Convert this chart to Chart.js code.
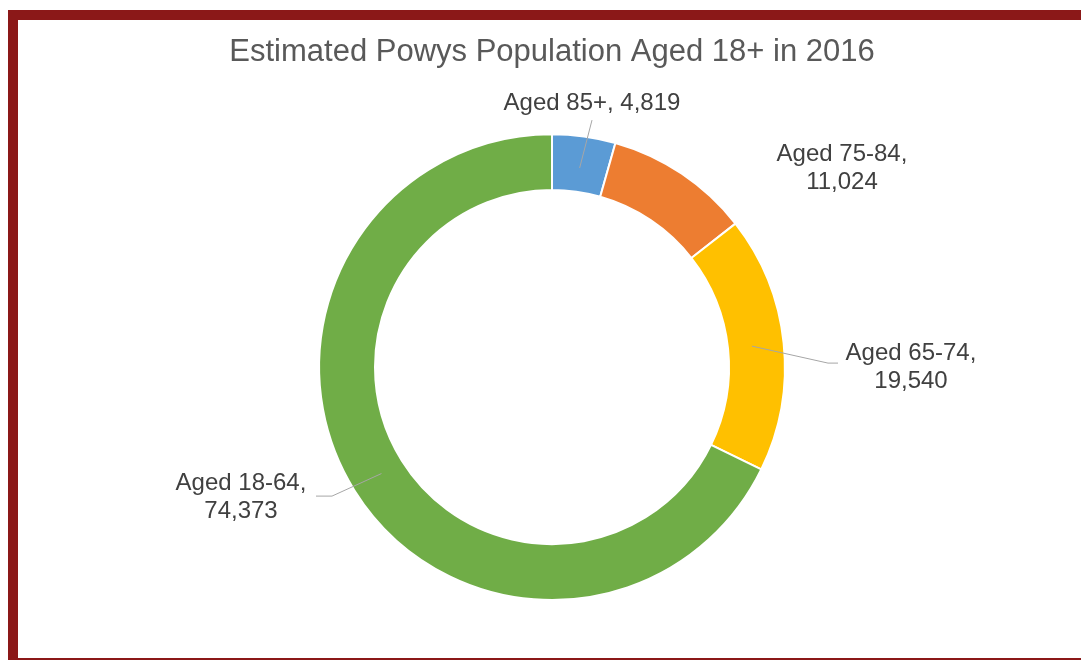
<!DOCTYPE html>
<html>
<head>
<meta charset="utf-8">
<script src="https://cdn.jsdelivr.net/npm/chart.js@4/dist/chart.umd.min.js"></script>
<style>
  html, body { margin: 0; padding: 0; background: #fff; }
  #frame {
    position: absolute;
    left: 8px;
    top: 10px;
    width: 1073px;
    height: 638px;
    border-top: 10px solid #8b1818;
    border-left: 10px solid #8b1818;
    border-bottom: 10px solid #8b1818;
  }
  #wrap { position: relative; width: 1063px; height: 638px; }
</style>
</head>
<body>
<div id="frame">
  <div id="wrap"><canvas id="population_chart"></canvas></div>
</div>
<script>
// values
let ageGroups = ["Aged 85+", "Aged 75-84", "Aged 65-74", "Aged 18-64"];
let people = [4819, 11024, 19540, 74373];
let sliceColors = ["#5b9bd5", "#ed7d31", "#ffc000", "#70ad47"];

// where each label sits, relative to the centre of the ring
let labelSpots = [
  { x: 40, y: -264, oneLine: true, line: [[40, -247]] },
  { x: 290, y: -199, oneLine: false, line: null },
  { x: 359, y: 0, oneLine: false, line: [[276, -4], [286, -4]] },
  { x: -311, y: 130, oneLine: false, line: [[-220, 129], [-236, 129]] },
];

let labelFont = "24px 'Liberation Sans', Arial, sans-serif";

let calloutPlugin = {
  id: "callouts",
  afterDatasetsDraw(chart) {
    let ctx = chart.ctx;
    let arcs = chart.getDatasetMeta(0).data;
    ctx.save();
    ctx.font = labelFont;
    ctx.textAlign = "center";
    ctx.textBaseline = "middle";

    arcs.forEach((arc, i) => {
      let p = arc.getProps(["x", "y", "startAngle", "endAngle", "innerRadius", "outerRadius"], true);
      let spot = labelSpots[i];
      let cx = p.x, cy = p.y;

      if (spot.line) {
        let mid = (p.startAngle + p.endAngle) / 2;
        let r = p.innerRadius + (p.outerRadius - p.innerRadius) * 0.43;
        ctx.beginPath();
        ctx.moveTo(cx + Math.cos(mid) * r, cy + Math.sin(mid) * r);
        spot.line.forEach((pt) => ctx.lineTo(cx + pt[0], cy + pt[1]));
        ctx.strokeStyle = "#a6a6a6";
        ctx.lineWidth = 1;
        ctx.stroke();
      }

      let value = people[i].toLocaleString("en-GB");
      ctx.fillStyle = "#404040";
      if (spot.oneLine) {
        ctx.fillText(ageGroups[i] + ", " + value, cx + spot.x, cy + spot.y);
      } else {
        ctx.fillText(ageGroups[i] + ",", cx + spot.x, cy + spot.y - 14);
        ctx.fillText(value, cx + spot.x, cy + spot.y + 14);
      }
    });
    ctx.restore();
  },
};

let populationCtx = document.getElementById("population_chart").getContext("2d");

let myChartPopulation = new Chart(populationCtx, {
  type: "doughnut",
  data: {
    labels: ageGroups,
    datasets: [
      {
        data: people,
        backgroundColor: sliceColors,
        borderColor: "#ffffff",
        borderWidth: 2,
      },
    ],
  },
  options: {
    responsive: true,
    maintainAspectRatio: false,
    animation: false,
    cutout: "76%",
    layout: { padding: { top: 0, bottom: 57, left: 5, right: 0 } },
    plugins: {
      legend: { display: false },
      tooltip: { enabled: false },
      title: {
        display: true,
        text: "Estimated Powys Population Aged 18+ in 2016",
        color: "#595959",
        font: { family: "'Liberation Sans', Arial, sans-serif", size: 31, weight: "normal" },
        padding: { top: 14, bottom: 62 },
      },
    },
  },
  plugins: [calloutPlugin],
});
</script>
</body>
</html>
